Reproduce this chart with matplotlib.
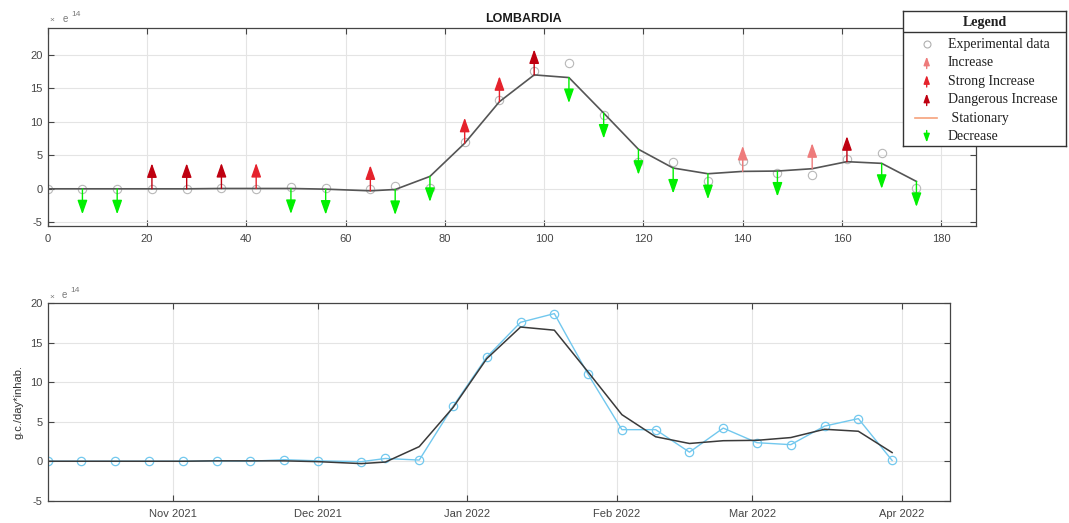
import datetime as dt

import matplotlib

matplotlib.use("Agg")
import matplotlib.dates as mdates
import matplotlib.pyplot as plt


START_DATE = dt.date(2021, 10, 6)
END_DATE = dt.date(2022, 4, 11)

# sampling day offsets from START_DATE
DAYS = [0, 7, 14, 21, 28, 35, 42, 49, 56, 65, 70, 77, 84, 91, 98, 105, 112,
        119, 126, 133, 140, 147, 154, 161, 168, 175]
# values in units of 1e14 g.c./day*inhab.
MEASURED = [0.0, 0.0, 0.0, 0.0, 0.0, 0.05, 0.0, 0.2, 0.05, -0.05, 0.35, 0.15,
            6.95, 13.2, 17.6, 18.7, 11.0, 4.0, 4.0, 1.15, 4.2, 2.35, 2.1, 4.45,
            5.4, 0.1]
SMOOTHED = [0.0, 0.0, 0.0, 0.0, 0.0, 0.05, 0.05, 0.05, -0.05, -0.3, -0.1, 1.85,
            6.8, 13.0, 17.0, 16.6, 11.3, 5.9, 3.1, 2.25, 2.6, 2.65, 3.0, 4.05,
            3.8, 1.1]
TREND = ["", "dec", "dec", "dang", "dang", "dang", "strong", "dec", "dec",
         "strong", "dec", "dec", "strong", "strong", "dang", "dec", "dec",
         "dec", "dec", "dec", "inc", "dec", "inc", "dang", "dec", "dec"]

REGION = "LOMBARDIA"
Y_LABEL = "g.c./day*inhab."
TOP_XTICKS = [0, 20, 40, 60, 80, 100, 120, 140, 160, 180]
YTICKS = [-5, 0, 5, 10, 15, 20]
LEGEND_ITEMS = [("circle", "Experimental data"), ("inc", "Increase"),
                ("strong", "Strong Increase"), ("dang", "Dangerous Increase"),
                ("stat", " Stationary"), ("dec", "Decrease")]

TREND_COLORS = {"inc": "#ee7b7b", "strong": "#e5222c", "dang": "#bf0010",
                "stat": "#f6a27c", "dec": "#00f000"}
ARROW_LEN = 3.8
AXES_COLOR = "#454545"


def style_axes(ax) -> None:
    ax.grid(True, color="#e4e4e4", lw=0.8)
    ax.set_axisbelow(True)
    for spine in ax.spines.values():
        spine.set_color(AXES_COLOR)
        spine.set_linewidth(0.9)
    ax.tick_params(direction="in", length=4, width=0.8, top=True, right=True,
                   labelsize=8, colors=AXES_COLOR)
    ax.tick_params(axis="x", pad=6)
    ax.set_yticks(YTICKS)


def exponent_label(ax, x0: float, y0: float) -> None:
    ax.text(x0, y0, "×", transform=ax.transAxes, fontsize=6, color="#7a7a7a")
    ax.text(x0 + 0.014, y0, "e", transform=ax.transAxes, fontsize=7, color="#7a7a7a")
    ax.text(x0 + 0.023, y0 + 0.03, "14", transform=ax.transAxes, fontsize=6, color="#7a7a7a")


def trend_arrow(ax, x, y_from, y_to, kind, scale) -> None:
    ax.annotate("", xy=(x, y_to), xytext=(x, y_from),
                arrowprops=dict(arrowstyle="-|>,head_length=0.85,head_width=0.3",
                                mutation_scale=scale, color=TREND_COLORS[kind],
                                lw=1.0, shrinkA=0, shrinkB=0))


def main() -> None:
    plt.rcParams["font.family"] = ["Liberation Sans", "DejaVu Sans"]
    plt.rcParams["axes.unicode_minus"] = False
    fig = plt.figure(figsize=(10.69, 5.23), dpi=100)

    # top panel: trend arrows over day index
    ax1 = fig.add_axes([0.0446, 0.5685, 0.8684, 0.378])
    style_axes(ax1)
    ax1.plot(DAYS, SMOOTHED, color="#555555", lw=1.2, zorder=3)
    ax1.plot(DAYS, MEASURED, "o", ms=6, mfc="none", mec="#b8b8b8", mew=0.8, zorder=2)
    for day, value, kind in zip(DAYS, SMOOTHED, TREND):
        if kind == "dec":
            trend_arrow(ax1, day, value, value - ARROW_LEN, kind, 10)
        elif kind in ("inc", "strong", "dang"):
            trend_arrow(ax1, day, value, value + ARROW_LEN, kind, 10)
    ax1.set_xlim(0, 187)
    ax1.set_ylim(-5.5, 24)
    ax1.set_xticks(TOP_XTICKS)
    ax1.text(0.513, 1.032, REGION, transform=ax1.transAxes, ha="center",
             fontsize=9, fontweight="bold", color="#1a1a1a")
    exponent_label(ax1, 0.002, 1.03)

    # bottom panel: measured vs smoothed over calendar dates
    dates = [START_DATE + dt.timedelta(days=d) for d in DAYS]
    ax2 = fig.add_axes([0.0446, 0.0426, 0.8441, 0.3774])
    style_axes(ax2)
    ax2.plot(dates, MEASURED, "-o", color="#72c8ee", lw=1.0, ms=6, mfc="none", mew=0.9)
    ax2.plot(dates, SMOOTHED, color="#3a3a3a", lw=1.1)
    ax2.set_xlim(START_DATE, END_DATE)
    ax2.set_ylim(-5, 20)
    ax2.xaxis.set_major_locator(mdates.MonthLocator())
    ax2.xaxis.set_major_formatter(mdates.DateFormatter("%b %Y"))
    ax2.set_ylabel(Y_LABEL, fontsize=8, color="#303030", labelpad=5)
    exponent_label(ax2, 0.002, 1.025)

    # legend box drawn by hand so the arrows match the plot (y grows downward)
    lax = fig.add_axes([0.8447, 0.7208, 0.1525, 0.2581], zorder=10)
    lax.set_xlim(0, 163)
    lax.set_ylim(135, 0)
    lax.set_xticks([])
    lax.set_yticks([])
    for spine in lax.spines.values():
        spine.set_color("#333333")
        spine.set_linewidth(1.0)
    lax.axhline(21.3, color="#333333", lw=1.0)
    lax.text(81.5, 11.5, "Legend", ha="center", va="center", fontsize=10,
             fontweight="bold", family="Liberation Serif", color="#202020")
    for i, (kind, label) in enumerate(LEGEND_ITEMS):
        y = 33 + i * 18.5
        if kind == "circle":
            lax.plot([23.7], [y], "o", ms=5, mfc="none", mec="#b0b0b0", mew=0.8)
        elif kind == "stat":
            lax.plot([12, 34], [y, y], color=TREND_COLORS["stat"], lw=1.2)
        elif kind == "dec":
            trend_arrow(lax, 23.7, y - 6, y + 6, kind, 6)
        else:
            trend_arrow(lax, 23.7, y + 6, y - 6, kind, 6)
        lax.text(44.7, y, label, va="center", fontsize=10,
                 family="Liberation Serif", color="#202020")

    fig.savefig("out.png", dpi=100)
    plt.close(fig)


if __name__ == "__main__":
    main()
